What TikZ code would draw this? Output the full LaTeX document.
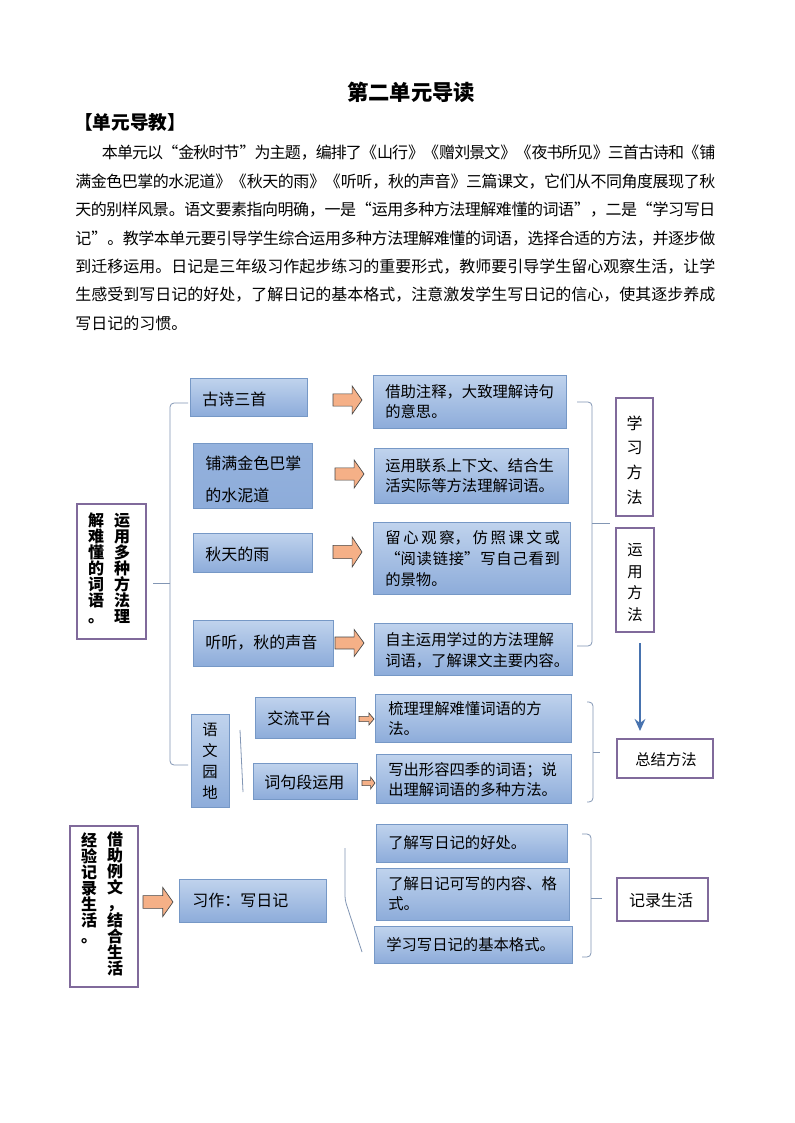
\documentclass[tikz,border=0pt]{standalone}
\usepackage{fontspec}
\setmainfont{Noto Sans CJK SC}
\usetikzlibrary{fit,arrows.meta}
\XeTeXlinebreaklocale "zh"
\XeTeXlinebreakskip=0pt plus 1pt minus 2pt
\tolerance=10000
\definecolor{boxtop}{RGB}{192,211,237}
\definecolor{boxbot}{RGB}{141,172,218}
\definecolor{boxline}{RGB}{118,152,198}
\definecolor{purp}{RGB}{128,106,155}
\definecolor{brcol}{RGB}{130,150,180}
\definecolor{ofill}{RGB}{245,176,135}
\definecolor{oline}{RGB}{70,70,70}
\definecolor{barrc}{RGB}{72,115,175}
\newcommand\OArrow[4]{%
  \pgfmathsetmacro\OAhead{#4/2}%
  \pgfmathsetmacro\OAshaft{#4*0.22}%
  \pgfmathsetmacro\OAmid{#2-0.34*(#2-#1)}%
  \draw[oarr] (#1,#3-\OAshaft) -- (\OAmid,#3-\OAshaft) -- (\OAmid,#3-\OAhead) -- (#2,#3) -- (\OAmid,#3+\OAhead) -- (\OAmid,#3+\OAshaft) -- (#1,#3+\OAshaft) -- cycle;}
\tikzset{
  bbox/.style={draw=boxline, line width=0.6pt, top color=boxtop, bottom color=boxbot, inner sep=0pt},
  pbox/.style={draw=purp, line width=1.9pt, inner sep=0pt},
  ltext/.style={inner sep=0pt, font=\fontsize{12pt}{15pt}\selectfont, align=left},
  rtext/.style={inner sep=0pt, font=\fontsize{11.5pt}{15pt}\selectfont, align=left},
  vtext/.style={inner sep=0pt, align=center},
  brk/.style={draw=brcol, line width=0.6pt, rounded corners=3pt},
  oarr/.style={draw=oline, line width=0.5pt, fill=ofill},
  barr/.style={draw=barrc, line width=2pt, -{Stealth[length=9pt,width=8pt,inset=3pt]}},
}
\begin{document}
\begin{tikzpicture}[x=0.75pt,y=-0.75pt]
\fill[white] (0,0) rectangle (794,1123);
\useasboundingbox (0,0) rectangle (794,1123);
% title and text
\node[inner sep=0pt, font=\bfseries\fontsize{16pt}{20pt}\selectfont] (title) at (411,92) {第二单元导读};
\node[inner sep=0pt, anchor=west, font=\bfseries\fontsize{14pt}{18pt}\selectfont] (head) at (74,122) {【单元导教】};
\node[inner sep=0pt, anchor=base west, text width=480pt, align=justify, font=\fontsize{12pt}{21.3pt}\selectfont] (para) at (75,159) {\hspace*{20pt}本单元以“金秋时节”为主题，编排了《山行》《赠刘景文》《夜书所见》三首古诗和《铺\linebreak 满金色巴掌的水泥道》《秋天的雨》《听听，秋的声音》三篇课文，它们从不同角度展现了秋\linebreak 天的别样风景。语文要素指向明确，一是“运用多种方法理解难懂的词语”，二是“学习写日\linebreak 记”。教学本单元要引导学生综合运用多种方法理解难懂的词语，选择合适的方法，并逐步做\linebreak 到迁移运用。日记是三年级习作起步练习的重要形式，教师要引导学生留心观察生活，让学\linebreak 生感受到写日记的好处，了解日记的基本格式，注意激发学生写日记的信心，使其逐步养成\linebreak 写日记的习惯。};
% brackets
\draw[brk] (188,403) -- (170,403) -- (170,765) -- (188,765);
\draw[brk] (170,583) -- (153,583);
\draw[brk] (577,402) -- (592,402) -- (592,646) -- (577,646);
\draw[brk] (592,523) -- (610,523);
\draw[brk] (587,702) -- (593,702) -- (593,802) -- (587,802);
\draw[brk] (593,752) -- (600,752);
\draw[brk] (582,834) -- (591,834) -- (591,957) -- (582,957);
\draw[brk] (591,898) -- (602,898);
\draw[brk] (240,730) -- (243,792);
\draw[brk] (345,848) -- (345,900) -- (362,952);
% left blue boxes
\node[bbox, fit={(190,378) (307,416)}] (bx1) {};
\node[bbox, top color=boxbot!85!boxtop, fit={(193,443) (312,508)}] (bx2) {};
\node[bbox, fit={(193,533) (312,572)}] (bx3) {};
\node[bbox, fit={(193,620) (333,666)}] (bx4) {};
\node[ltext, anchor=west] (bx1t) at (202,399) {古诗三首};
\node[ltext, anchor=west, font=\fontsize{12pt}{24pt}\selectfont] (bx2t) at (205,479) {铺满金色巴掌\\的水泥道};
\node[ltext, anchor=west] (bx3t) at (205,554) {秋天的雨};
\node[ltext, anchor=west] (bx4t) at (205,643) {听听，秋的声音};
% right blue boxes
\node[bbox, fit={(373,375) (566,428)}] (a1) {};
\node[bbox, fit={(374,448) (568,503)}] (a2) {};
\node[bbox, fit={(373,522) (570,594)}] (a3) {};
\node[bbox, fit={(374,623) (572,675)}] (a4) {};
\node[rtext, anchor=west, font=\fontsize{11.5pt}{14.5pt}\selectfont] (a1t) at (385,401.5) {借助注释，大致理解诗句\\的意思。};
\node[rtext, anchor=west] (a2t) at (385,476) {运用联系上下文、结合生\\活实际等方法理解词语。};
\node[rtext, anchor=west, text width=131pt, align=justify, font=\fontsize{11.5pt}{15.75pt}\selectfont] (a3t) at (385,559) {留心观察，仿照课文或\linebreak “阅读链接”写自己看到\linebreak 的景物。};
\node[rtext, anchor=west, font=\fontsize{11.5pt}{16pt}\selectfont] (a4t) at (385,650) {自主运用学过的方法理解\\词语，了解课文主要内容。};
% 语文园地 group
\node[bbox, fit={(191,714) (229,807)}] (yw) {};
\node[vtext, font=\fontsize{11.5pt}{15.75pt}\selectfont] (ywt) at (210,761.5) {语\\文\\园\\地};
\node[bbox, fit={(255,697) (355,738)}] (jl) {};
\node[bbox, fit={(253,763) (357,799)}] (cj) {};
\node[ltext, anchor=west] (jlt) at (267,718) {交流平台};
\node[ltext, anchor=west] (cjt) at (264,782) {词句段运用};
\node[bbox, fit={(375,694) (571,742)}] (b1) {};
\node[bbox, fit={(376,754) (571,803)}] (b2) {};
\node[rtext, anchor=west] (b1t) at (388,719) {梳理理解难懂词语的方\\法。};
\node[rtext, anchor=west] (b2t) at (388,780) {写出形容四季的词语；说\\出理解词语的多种方法。};
% 习作 group
\node[bbox, fit={(179,879) (326,922)}] (xz) {};
\node[ltext, anchor=west] (xzt) at (192,900) {习作：写日记};
\node[bbox, fit={(376,824) (567,862)}] (c1) {};
\node[bbox, fit={(376,868) (569,920)}] (c2) {};
\node[bbox, fit={(374,926) (572,963)}] (c3) {};
\node[rtext, anchor=west] (c1t) at (388,843) {了解写日记的好处。};
\node[rtext, anchor=west] (c2t) at (388,894) {了解日记可写的内容、格\\式。};
\node[rtext, anchor=west] (c3t) at (386,945) {学习写日记的基本格式。};
% orange arrows
\OArrow{333}{362}{400}{28}
\OArrow{335}{364}{474}{28}
\OArrow{333}{362}{552}{30}
\OArrow{335}{364}{643}{27}
\OArrow{359}{374}{719}{12}
\OArrow{362}{375}{783}{12}
\OArrow{143}{173}{902}{29}
% purple boxes
\node[pbox, fit={(77,504) (146,639)}] (p1) {};
\node[vtext, font=\bfseries\fontsize{12pt}{12pt}\selectfont] (p1r) at (122,568) {运\\用\\多\\种\\方\\法\\理};
\node[vtext, font=\bfseries\fontsize{12pt}{12pt}\selectfont] (p1l) at (96,568) {解\\难\\懂\\的\\词\\语\\。};
\node[pbox, fit={(616,398) (653,516)}] (p2) {};
\node[vtext, font=\fontsize{12pt}{18.5pt}\selectfont] (p2t) at (634.5,460) {学\\习\\方\\法};
\node[pbox, fit={(616,528) (654,632)}] (p3) {};
\node[vtext, font=\fontsize{11.5pt}{16.3pt}\selectfont] (p3t) at (635,582.5) {运\\用\\方\\法};
\node[pbox, fit={(617,739) (713,778)}] (p4) {};
\node[inner sep=0pt, font=\fontsize{11.5pt}{14pt}\selectfont] (p4t) at (666,760) {总结方法};
\node[pbox, fit={(617,878) (708,921)}] (p5) {};
\node[inner sep=0pt, font=\fontsize{12pt}{14pt}\selectfont] (p5t) at (661,900) {记录生活};
\node[pbox, fit={(70,826) (138,987)}] (p6) {};
\node[vtext, font=\bfseries\fontsize{12pt}{12pt}\selectfont] (p6r) at (115,904) {借\\助\\例\\文\\，\\结\\合\\生\\活};
\node[vtext, font=\bfseries\fontsize{12pt}{12pt}\selectfont] (p6l) at (89,888) {经\\验\\记\\录\\生\\活\\。};
% blue arrow
\coordinate (ba1) at (640,643);
\coordinate (ba2) at (640,731);
\draw[barr] (ba1) -- (ba2);
\end{tikzpicture}
\end{document}
